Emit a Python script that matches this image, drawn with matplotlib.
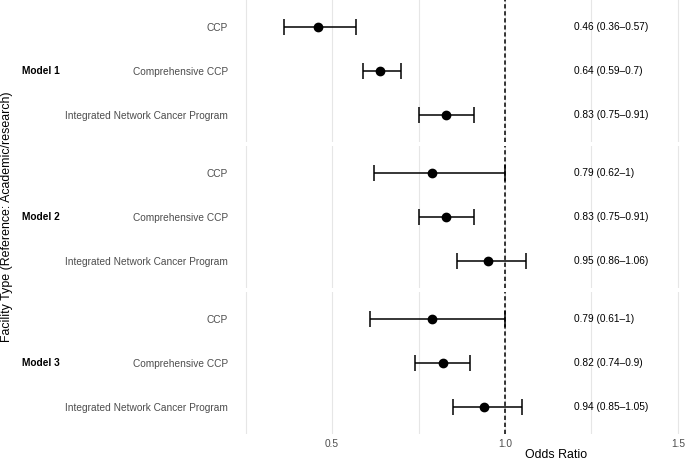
import matplotlib
matplotlib.use('Agg')
import matplotlib.pyplot as plt

plt.rcParams['font.family'] = ['Liberation Sans', 'DejaVu Sans']

models = ["Model 1", "Model 2", "Model 3"]
facilities = ["CCP", "Comprehensive CCP", "Integrated Network Cancer Program"]
odds = [[0.46, 0.64, 0.83], [0.79, 0.83, 0.95], [0.79, 0.82, 0.94]]
lower = [[0.36, 0.59, 0.75], [0.62, 0.75, 0.86], [0.61, 0.74, 0.85]]
upper = [[0.57, 0.70, 0.91], [1.00, 0.91, 1.06], [1.00, 0.90, 1.05]]
major_ticks = [0.5, 1.0, 1.5, 2.0]
minor_ticks = [0.25, 0.75, 1.25, 1.75]

W, H = 685, 461
fig = plt.figure(figsize=(W / 100, H / 100), dpi=100)

panel_h = 141.4
panel_tops = [0.3, 146.3, 292.3]
ys = [1, 2, 3]

for i, model in enumerate(models):
    top = panel_tops[i]
    ax = fig.add_axes([236 / W, 1 - (top + panel_h) / H, 640 / W, panel_h / H])
    ax.set_xlim(0.2225, 2.0723)
    ax.set_ylim(3.6, 0.4)
    for s in ax.spines.values():
        s.set_visible(False)

    ax.set_xticks(major_ticks)
    ax.set_xticks(minor_ticks, minor=True)
    ax.grid(axis='x', which='both', color='#e6e6e6', lw=0.8)
    ax.set_axisbelow(True)
    ax.tick_params(axis='both', which='both', length=0)
    ax.tick_params(axis='x', labelsize=7.3, labelcolor='#4d4d4d', pad=3.5)
    if i < 2:
        ax.tick_params(axis='x', labelbottom=False)
    else:
        ax.set_xticklabels([f"{t:.1f}" for t in major_ticks])

    ax.set_yticks(ys)
    ax.set_yticklabels(facilities, fontsize=7.3, color='#4d4d4d')
    ax.tick_params(axis='y', pad=5.8)

    ax.axvline(1.0, color='black', ls=(0, (2.8, 1.8)), lw=1.1, zorder=2)

    o, lo, hi = odds[i], lower[i], upper[i]
    xerr = [[a - b for a, b in zip(o, lo)], [c - a for a, c in zip(o, hi)]]
    ax.errorbar(o, ys, xerr=xerr, fmt='o', color='black', ms=6,
                capsize=5.5, elinewidth=1.1, capthick=1.1, zorder=3)

    for y, a, b, c in zip(ys, o, lo, hi):
        ax.text(1.2, y, f"{a:g} ({b:g}\u2013{c:g})", ha='left', va='center',
                fontsize=7.3, color='black')

    fig.text(22 / W, 1 - (top + panel_h / 2) / H, model, fontweight='bold',
             fontsize=7.3, ha='left', va='center')

fig.text(7 / W, 1 - 217 / H, "Facility Type (Reference: Academic/research)",
         rotation=90, ha='center', va='center', fontsize=8.9)
fig.text(556 / W, 1 - 455 / H, "Odds Ratio", ha='center', va='center',
         fontsize=8.9)

fig.savefig('out.png', dpi=100)
